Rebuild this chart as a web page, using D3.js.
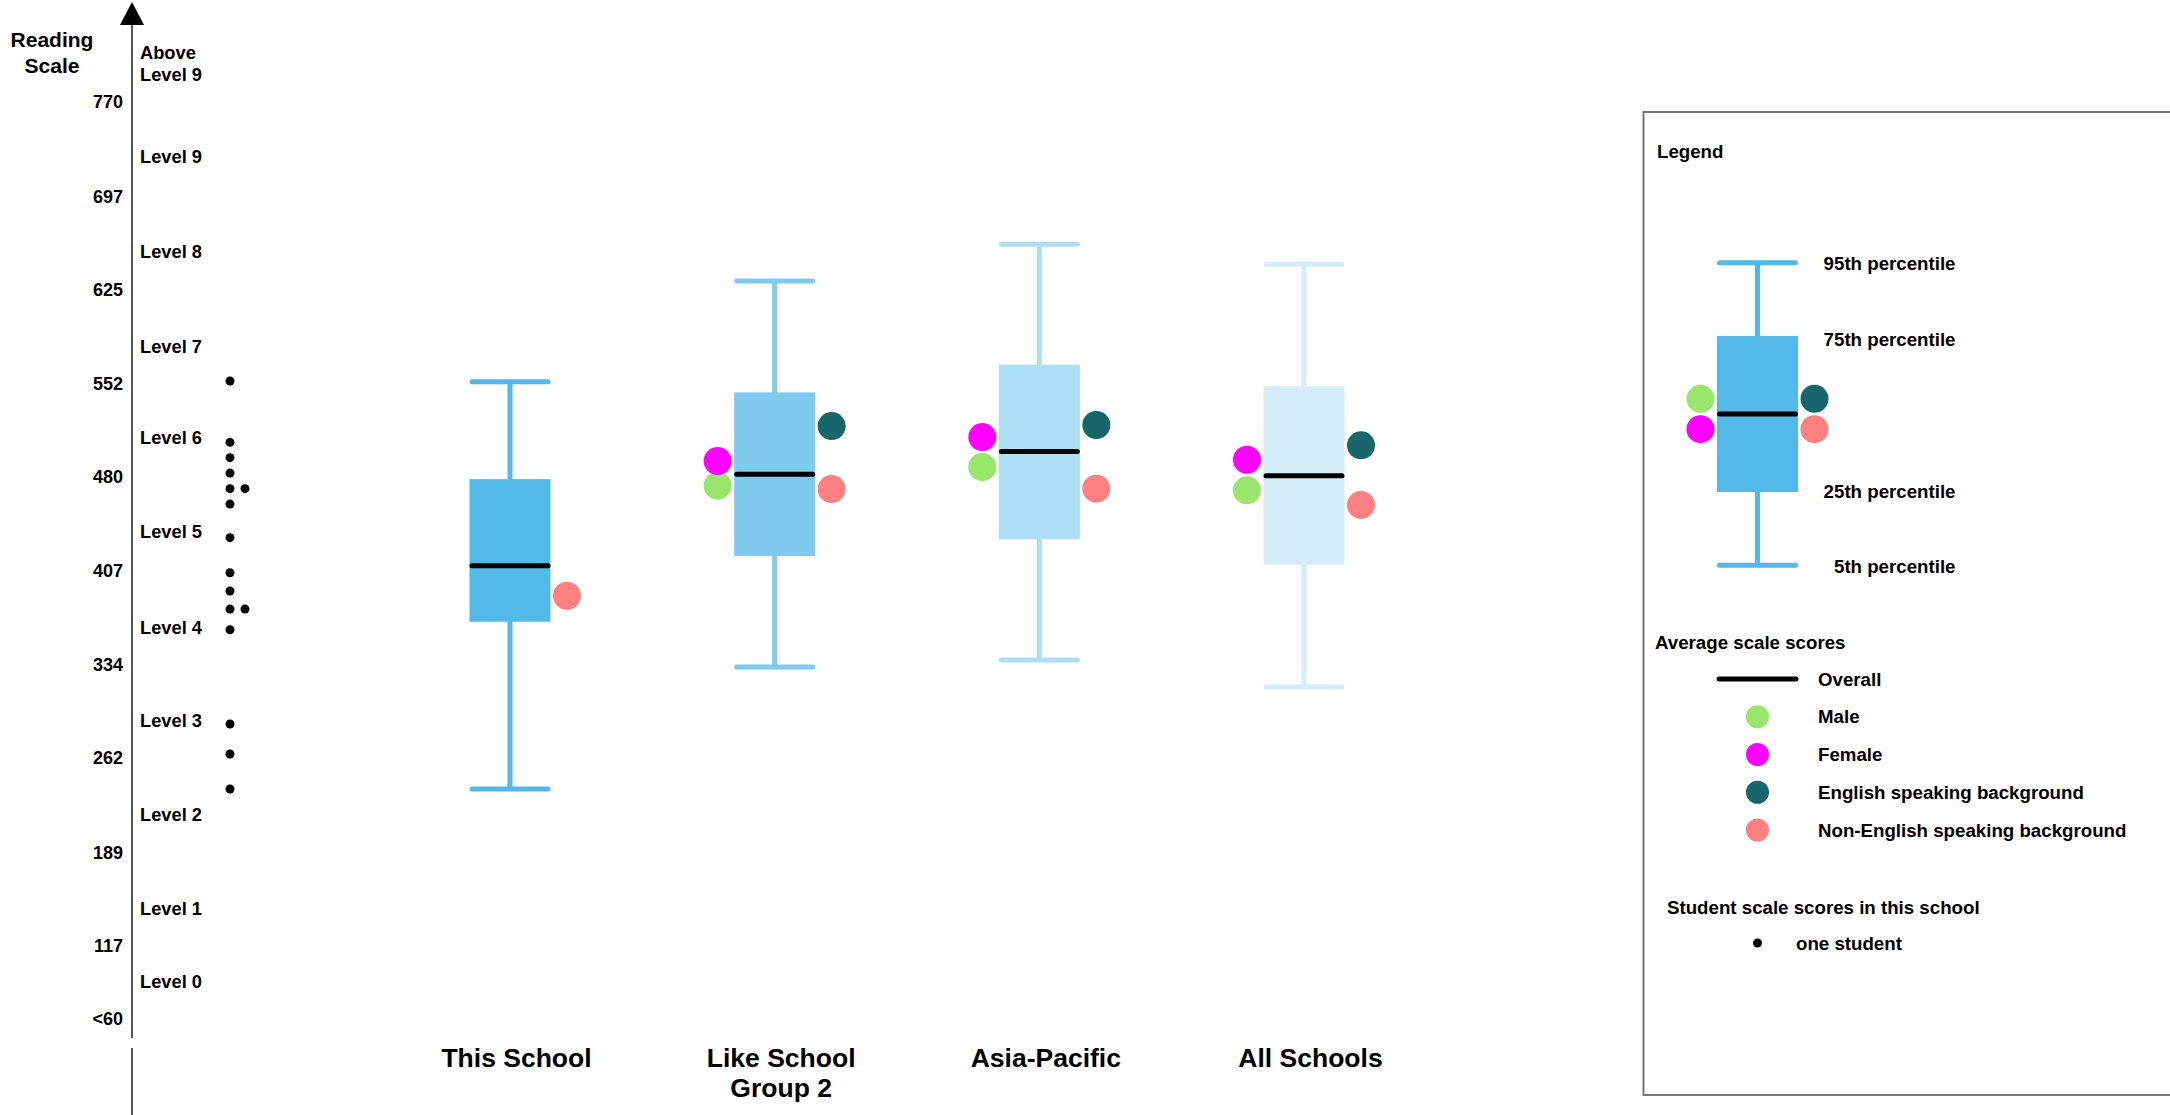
<!DOCTYPE html>
<html>
<head>
<meta charset="utf-8">
<script src="https://cdn.jsdelivr.net/npm/d3@7"></script>
<style>
  body { margin: 0; background: #fff; }
  text { font-family: "Liberation Sans", Arial, sans-serif; font-weight: bold; fill: #000; }
</style>
</head>
<body>
<div id="chart"></div>
<script>
// chart data
var categories = ["This School", "Like School Group 2", "Asia-Pacific", "All Schools"];
var categoryLines = [["This School"], ["Like School", "Group 2"], ["Asia-Pacific"], ["All Schools"]];
var boxColors = ["#53b9e8", "#7ecbef", "#acdef4", "#d5ecf9"];

var p5 = [238, 332.5, 338, 317.3];
var p25 = [367.6, 418.5, 431.4, 411.8];
var overall = [411, 481.7, 499.3, 480.7];
var p75 = [478, 545.2, 566.6, 549.9];
var p95 = [553.4, 631.4, 659.8, 644.3];

var male = [null, 472.9, 487.4, 469.3];
var female = [null, 492, 510.6, 493];
var esb = [null, 519.1, 519.9, 504.2];
var lbote = [387.7, 470.3, 470.6, 458];

var students = [554, 506.5, 494.6, 482.7, 470.6, 470.6, 458.7, 432.7, 405.5, 391.4, 377.4, 377.4, 361.4, 288.4, 265.2, 238.1];

var tickValues = [770, 697, 625, 552, 480, 407, 334, 262, 189, 117, 60];
var levelNames = ["Level 9", "Level 8", "Level 7", "Level 6", "Level 5", "Level 4", "Level 3", "Level 2", "Level 1", "Level 0"];
var levelPos = [727.4, 653.9, 581, 509.8, 437, 362.7, 290.7, 217.9, 145.2, 88.6];

var dotColors = { male: "#98e66e", female: "#ff00ff", esb: "#17666b", lbote: "#ff8080" };

// legend sample (relative positions within the legend box plot)
var legendSample = { p5: 0, p25: 0.242, overall: 0.5, p75: 0.758, p95: 1, male: 0.55, female: 0.45, esb: 0.55, lbote: 0.45 };
var legendPctLabels = ["95th percentile", "75th percentile", "25th percentile", "5th percentile"];
var legendPctKeys = ["p95", "p75", "p25", "p5"];
var legendPctShift = [1, 4, -1, 1];
var legendSeries = ["Overall", "Male", "Female", "English speaking background", "Non-English speaking background"];
var legendSeriesKeys = ["overall", "male", "female", "esb", "lbote"];

var svgWidth = 2170, svgHeight = 1115;
var axisX = 132;
var boxW = 81, dotOff = 57, dotR = 14;
var legFont = "18.7px";

var svg = d3.select("#chart").append("svg")
  .attr("width", svgWidth)
  .attr("height", svgHeight);

var y = d3.scaleLinear().domain([60, 770]).range([1019, 102]);
var x = d3.scalePoint().domain(categories).range([510, 1304]);

// axis line with arrow and break
svg.append("line").attr("x1", axisX).attr("x2", axisX).attr("y1", 24).attr("y2", 1038)
  .attr("stroke", "#555").attr("stroke-width", 2);
svg.append("line").attr("x1", axisX).attr("x2", axisX).attr("y1", 1048).attr("y2", svgHeight)
  .attr("stroke", "#555").attr("stroke-width", 2);
svg.append("path").attr("d", "M" + axisX + ",2 L" + (axisX - 12) + ",25 L" + (axisX + 12) + ",25 Z")
  .attr("fill", "#000");

svg.append("text").attr("x", 52).attr("y", 47).attr("text-anchor", "middle")
  .style("font-size", "21px").text("Reading");
svg.append("text").attr("x", 52).attr("y", 73).attr("text-anchor", "middle")
  .style("font-size", "21px").text("Scale");

var yAxis = d3.axisLeft(y).tickValues(tickValues).tickSize(0).tickPadding(9)
  .tickFormat(function(d) { return d === 60 ? "<60" : d; });
var axisG = svg.append("g").attr("transform", "translate(" + axisX + ",0)").call(yAxis);
axisG.select(".domain").remove();
axisG.selectAll("text").style("font-size", "18px")
  .style("font-family", "'Liberation Sans', Arial, sans-serif").style("font-weight", "bold");

// level labels
svg.append("text").attr("x", 140).attr("y", 53).attr("dy", "0.35em").style("font-size", "18.3px").text("Above");
svg.append("text").attr("x", 140).attr("y", 75).attr("dy", "0.35em").style("font-size", "18.3px").text("Level 9");
svg.selectAll(".level").data(levelNames).enter().append("text")
  .attr("class", "level")
  .attr("x", 140)
  .attr("y", function(d, i) { return y(levelPos[i]); })
  .attr("dy", "0.35em")
  .style("font-size", "18.3px")
  .text(function(d) { return d; });

// student dots, duplicates placed side by side
var seen = {};
svg.selectAll(".student").data(students).enter().append("circle")
  .attr("class", "student")
  .attr("cx", function(d) { var k = seen[d] || 0; seen[d] = k + 1; return 230 + k * 15; })
  .attr("cy", function(d) { return y(d); })
  .attr("r", 4.5)
  .attr("fill", "#000");

// box plots
function drawBox(g, cx, sc, v, color) {
  g.append("line").attr("x1", cx).attr("x2", cx).attr("y1", sc(v.p95)).attr("y2", sc(v.p5))
    .attr("stroke", color).attr("stroke-width", 5);
  [v.p95, v.p5].forEach(function(p) {
    g.append("line").attr("x1", cx - boxW / 2 + 2.5).attr("x2", cx + boxW / 2 - 2.5)
      .attr("y1", sc(p)).attr("y2", sc(p))
      .attr("stroke", color).attr("stroke-width", 5).attr("stroke-linecap", "round");
  });
  g.append("rect").attr("x", cx - boxW / 2).attr("width", boxW)
    .attr("y", sc(v.p75)).attr("height", sc(v.p25) - sc(v.p75))
    .attr("fill", color);
  g.append("line").attr("x1", cx - boxW / 2 + 2.5).attr("x2", cx + boxW / 2 - 2.5)
    .attr("y1", sc(v.overall)).attr("y2", sc(v.overall))
    .attr("stroke", "#000").attr("stroke-width", 5).attr("stroke-linecap", "round");
  [["male", -1], ["female", -1], ["esb", 1], ["lbote", 1]].forEach(function(s) {
    if (v[s[0]] == null) return;
    g.append("circle").attr("cx", cx + s[1] * dotOff).attr("cy", sc(v[s[0]]))
      .attr("r", dotR).attr("fill", dotColors[s[0]]);
  });
}

categories.forEach(function(c, i) {
  var g = svg.append("g");
  drawBox(g, x(c), y, {
    p5: p5[i], p25: p25[i], overall: overall[i], p75: p75[i], p95: p95[i],
    male: male[i], female: female[i], esb: esb[i], lbote: lbote[i]
  }, boxColors[i]);
  categoryLines[i].forEach(function(line, j) {
    svg.append("text").attr("x", x(c) + 6.5).attr("y", 1067 + j * 30)
      .attr("text-anchor", "middle").style("font-size", "26.5px").text(line);
  });
});

// legend
var leg = svg.append("g");
leg.append("rect").attr("x", 1643.5).attr("y", 112).attr("width", 600).attr("height", 983)
  .attr("fill", "none").attr("stroke", "#777").attr("stroke-width", 2);
leg.append("text").attr("x", 1657).attr("y", 151).attr("dy", "0.35em").style("font-size", legFont).text("Legend");

var ly = d3.scaleLinear().domain([0, 1]).range([565.3, 262.7]);
var legCx = 1757.5;
drawBox(leg, legCx, ly, legendSample, boxColors[0]);
legendPctKeys.forEach(function(k, i) {
  leg.append("text").attr("x", 1955.5).attr("y", ly(legendSample[k]) + legendPctShift[i]).attr("dy", "0.35em")
    .attr("text-anchor", "end").style("font-size", legFont).text(legendPctLabels[i]);
});

leg.append("text").attr("x", 1655).attr("y", 642).attr("dy", "0.35em").style("font-size", legFont).text("Average scale scores");
var rowY = d3.scalePoint().domain(legendSeriesKeys).range([679, 830]);
legendSeriesKeys.forEach(function(k, i) {
  if (k === "overall") {
    leg.append("line").attr("x1", 1719).attr("x2", 1796).attr("y1", rowY(k)).attr("y2", rowY(k))
      .attr("stroke", "#000").attr("stroke-width", 5).attr("stroke-linecap", "round");
  } else {
    leg.append("circle").attr("cx", legCx).attr("cy", rowY(k)).attr("r", 11.5).attr("fill", dotColors[k]);
  }
  leg.append("text").attr("x", 1818).attr("y", rowY(k)).attr("dy", "0.35em")
    .style("font-size", legFont).text(legendSeries[i]);
});

leg.append("text").attr("x", 1667).attr("y", 907).attr("dy", "0.35em").style("font-size", legFont).text("Student scale scores in this school");
leg.append("circle").attr("cx", legCx).attr("cy", 943).attr("r", 4.5).attr("fill", "#000");
leg.append("text").attr("x", 1796).attr("y", 943).attr("dy", "0.35em").style("font-size", legFont).text("one student");
</script>
</body>
</html>
